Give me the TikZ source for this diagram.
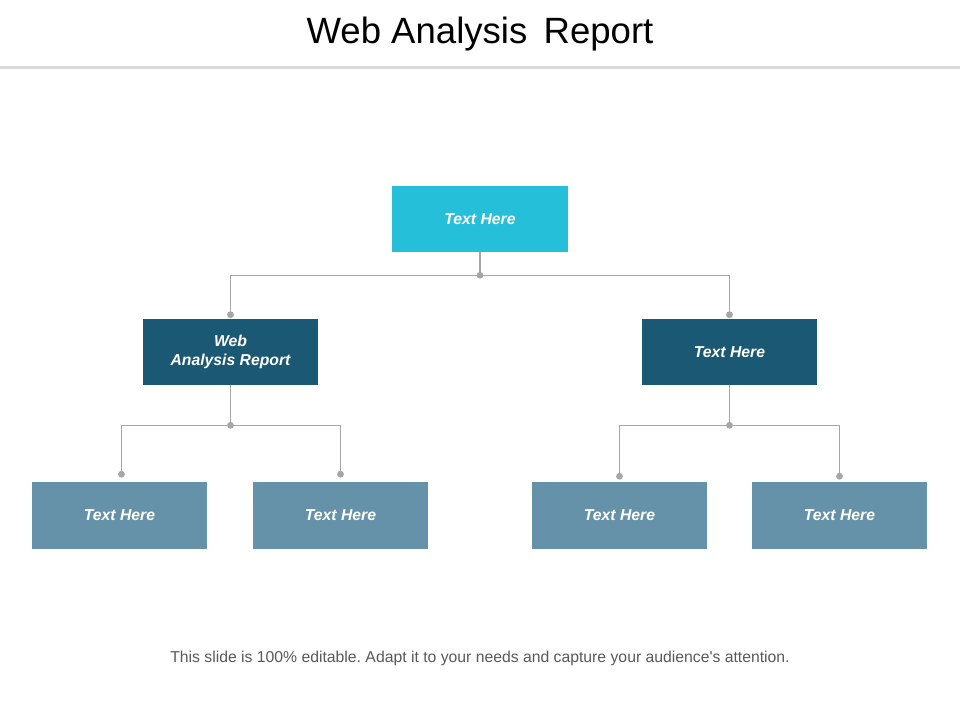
\documentclass[tikz,border=0pt]{standalone}
\usepackage{fontspec}
\setmainfont{Liberation Sans}
\usepackage{xcolor}
\usepackage{tikz}
\usetikzlibrary{calc}
\frenchspacing
\definecolor{bg}{HTML}{FFFFFF}
\definecolor{rule}{HTML}{D9D9D9}
\definecolor{wire}{HTML}{A6A6A6}
\definecolor{cyanbox}{HTML}{26BFD9}
\definecolor{darkbox}{HTML}{1A5874}
\definecolor{greybox}{HTML}{6592A8}
\definecolor{foot}{HTML}{595959}
\tikzset{
  orgbox/.style={minimum width=4.375cm, minimum height=1.65cm, inner sep=0pt,
    text=white, align=center, font=\fontsize{11.2}{13.5}\selectfont\bfseries\itshape},
  topbox/.style={orgbox, fill=cyanbox},
  midbox/.style={orgbox, fill=darkbox},
  botbox/.style={orgbox, fill=greybox},
  wire/.style={draw=wire, line width=0.8pt},
  dot/.style={fill=wire}
}

\begin{document}
\begin{tikzpicture}[x=0.025cm, y=-0.025cm]
  \fill[bg] (0,0) rectangle (960,720);
  \useasboundingbox (0,0) rectangle (960,720);

  % title
  \node[text=black, font=\fontsize{26}{30}\selectfont] (title) at (480,34) {Web Analysis\, Report};
  \fill[rule] (0,66) rectangle (960,69);

  % boxes
  \node[topbox] (top) at (480,219) {Text Here};
  \node[midbox] (midL) at (230.5,352) {Web\\Analysis Report};
  \node[midbox] (midR) at (729.5,352) {Text Here};
  \node[botbox] (botA) at (119.5,515.5) {Text Here};
  \node[botbox] (botB) at (340.5,515.5) {Text Here};
  \node[botbox] (botC) at (619.5,515.5) {Text Here};
  \node[botbox] (botD) at (839.5,515.5) {Text Here};

  % junctions and dots
  \coordinate (jT) at ($(top.south)+(0,23)$);
  \coordinate (jL) at ($(midL.south)+(0,40)$);
  \coordinate (jR) at ($(midR.south)+(0,40)$);
  \coordinate (dML) at ($(midL.north)+(0,-4)$);
  \coordinate (dMR) at ($(midR.north)+(0,-4)$);
  \coordinate (dA) at ($(botA.north)+(2,-8)$);
  \coordinate (dB) at ($(botB.north)+(0,-8)$);
  \coordinate (dC) at ($(botC.north)+(0,-6)$);
  \coordinate (dD) at ($(botD.north)+(0,-6)$);

  % connectors
  \draw[wire] (top.south) -- (jT);
  \draw[wire] (dML) |- (jT) -| (dMR);
  \draw[wire] (midL.south) -- (jL);
  \draw[wire] (dA) |- (jL) -| (dB);
  \draw[wire] (midR.south) -- (jR);
  \draw[wire] (dC) |- (jR) -| (dD);

  \foreach \p in {jT,jL,jR,dML,dMR,dA,dB,dC,dD}
    \fill[dot] (\p) circle (0.085cm);

  % footer
  \node[text=foot, font=\fontsize{11.2}{13}\selectfont] (note) at (480,658)
    {This slide is 100\% editable. Adapt it to your needs and capture your audience\textquotesingle s attention.};
\end{tikzpicture}
\end{document}
